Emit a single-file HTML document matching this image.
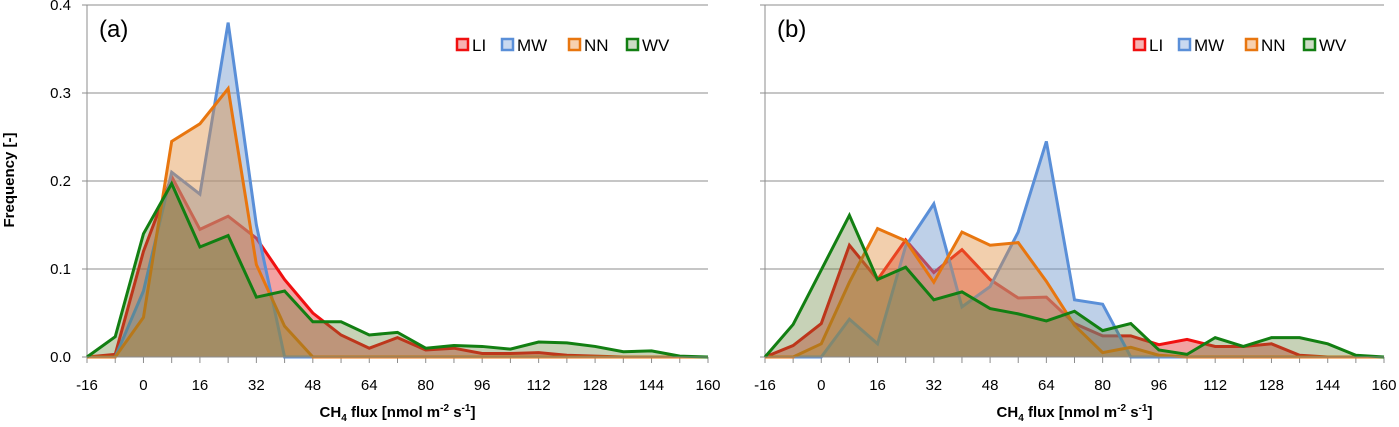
<!DOCTYPE html>
<html><head><meta charset="utf-8">
<style>
html,body{margin:0;padding:0;background:#fff;}
svg{display:block;font-family:"Liberation Sans",Arial,sans-serif;}
</style></head>
<body>
<svg id="chart" width="1399" height="427" viewBox="0 0 1399 427" xmlns="http://www.w3.org/2000/svg">
<text transform="translate(14,180) rotate(-90)" text-anchor="middle" font-size="15" font-weight="bold">Frequency [-]</text>
</svg>
<script>
const xTicks = [-16,0,16,32,48,64,80,96,112,128,144,160];
const yTicks = [0.0,0.1,0.2,0.3,0.4];
const xCats = [-16,-8,0,8,16,24,32,40,48,56,64,72,80,88,96,104,112,120,128,136,144,152,160];
const seriesNames = ["LI","MW","NN","WV"];
const aLI = [0,0.003,0.12,0.205,0.145,0.16,0.135,0.088,0.05,0.025,0.01,0.022,0.008,0.01,0.004,0.004,0.005,0.002,0.001,0,0,0,0];
const aMW = [0,0,0.075,0.21,0.185,0.38,0.15,0,0,0,0,0,0,0,0,0,0,0,0,0,0,0,0];
const aNN = [0,0,0.045,0.245,0.265,0.305,0.105,0.035,0,0,0,0,0,0,0,0,0,0,0,0,0,0,0];
const aWV = [0,0.023,0.14,0.197,0.125,0.138,0.068,0.075,0.04,0.04,0.025,0.028,0.01,0.013,0.012,0.009,0.017,0.016,0.012,0.006,0.007,0.001,0];
const bLI = [0,0.013,0.038,0.127,0.088,0.133,0.096,0.122,0.088,0.067,0.068,0.038,0.024,0.024,0.014,0.02,0.012,0.012,0.015,0.002,0,0,0];
const bMW = [0,0,0,0.043,0.015,0.126,0.174,0.057,0.08,0.142,0.245,0.065,0.06,0,0,0,0,0,0,0,0,0,0];
const bNN = [0,0,0.015,0.085,0.146,0.132,0.085,0.142,0.127,0.13,0.086,0.036,0.005,0.011,0.002,0,0,0,0,0,0,0,0];
const bWV = [0,0.037,0.099,0.161,0.088,0.102,0.065,0.074,0.055,0.049,0.041,0.052,0.03,0.038,0.008,0.003,0.022,0.012,0.022,0.022,0.015,0.002,0];

const NS="http://www.w3.org/2000/svg";
const svg=document.getElementById('chart');
const styles={LI:{s:"#f01010",f:"rgba(230,70,70,0.5)",bf:"#f6b3b3"},
MW:{s:"#5a8fd8",f:"rgba(110,150,205,0.45)",bf:"#c9d9f0"},
NN:{s:"#e8760f",f:"rgba(225,140,60,0.42)",bf:"#f7d1b0"},
WV:{s:"#127f12",f:"rgba(95,125,50,0.35)",bf:"#cddcc5"}};
function mk(tag,attrs,parent){const e=document.createElementNS(NS,tag);for(const k in attrs)e.setAttribute(k,attrs[k]);(parent||svg).appendChild(e);return e;}

function panel(id,x0,x1,data,label,legX,showY){
  const y0=357,yTop=5;
  const X=v=>x0+(v+16)/176*(x1-x0);
  const Y=v=>y0-v/0.4*(y0-yTop);
  const g=mk('g',{});
  
  
  yTicks.forEach(t=>{
    if(t>0){const l=mk('line',{x1:x0,x2:x1,y1:Y(t),y2:Y(t),stroke:"#8c8c8c","stroke-width":1},g);
      }
    mk('line',{x1:x0-5,x2:x0,y1:Y(t),y2:Y(t),stroke:"#8c8c8c"},g);
    if(showY){const tx=mk('text',{x:x0-16,y:Y(t)+5,"text-anchor":"end","font-size":15},g);tx.textContent=t.toFixed(1);
      }
  });
  mk('line',{x1:x0,x2:x0,y1:yTop,y2:y0,stroke:"#8c8c8c"},g);
  xCats.forEach(c=>{mk('line',{x1:X(c),x2:X(c),y1:y0,y2:y0+6,stroke:"#8c8c8c"},g);});
  xTicks.forEach(t=>{const tx=mk('text',{x:X(t),y:390,"text-anchor":"middle","font-size":15},g);tx.textContent=t;
    });
  seriesNames.forEach((n,i)=>{
    const vals=data[i];
    let pts=vals.map((v,j)=>X(xCats[j])+","+Y(v)).join(" ");
    const area=mk('polygon',{points:X(xCats[0])+","+y0+" "+pts+" "+X(xCats[xCats.length-1])+","+y0,fill:styles[n].f,stroke:"none"},g);
    
    
    const line=mk('polyline',{points:pts,fill:"none",stroke:styles[n].s,"stroke-width":3,"stroke-linejoin":"miter"},g);
    
    
  });
  mk('line',{x1:x0,x2:x1,y1:y0,y2:y0,stroke:"#8c8c8c"},g);
  const lab=mk('text',{x:x0+12,y:37,"font-size":24},g);lab.textContent=label;
  
  const offs=[0,45,112,170];
  seriesNames.forEach((n,i)=>{
    const lg=mk('g',{},g);
    
    
    const bx=legX+offs[i];
    mk('rect',{x:bx,y:39,width:11,height:11,fill:styles[n].bf,stroke:styles[n].s,"stroke-width":2.5},lg);
    const t=mk('text',{x:bx+15,y:51,"font-size":17},lg);t.textContent=n;
  });
  const at=mk('text',{x:(x0+x1)/2,y:417,"text-anchor":"middle","font-size":15,"font-weight":"bold"},g);
  at.innerHTML='CH<tspan font-size="10" dy="4">4</tspan><tspan dy="-4"> flux [nmol m</tspan><tspan font-size="10" dy="-6">-2</tspan><tspan dy="6"> s</tspan><tspan font-size="10" dy="-6">-1</tspan><tspan dy="6">]</tspan>';
  
}
panel('a',87,708,[aLI,aMW,aNN,aWV],'(a)',457,true);
panel('b',765,1384,[bLI,bMW,bNN,bWV],'(b)',1134,false);
</script>
</body></html>
